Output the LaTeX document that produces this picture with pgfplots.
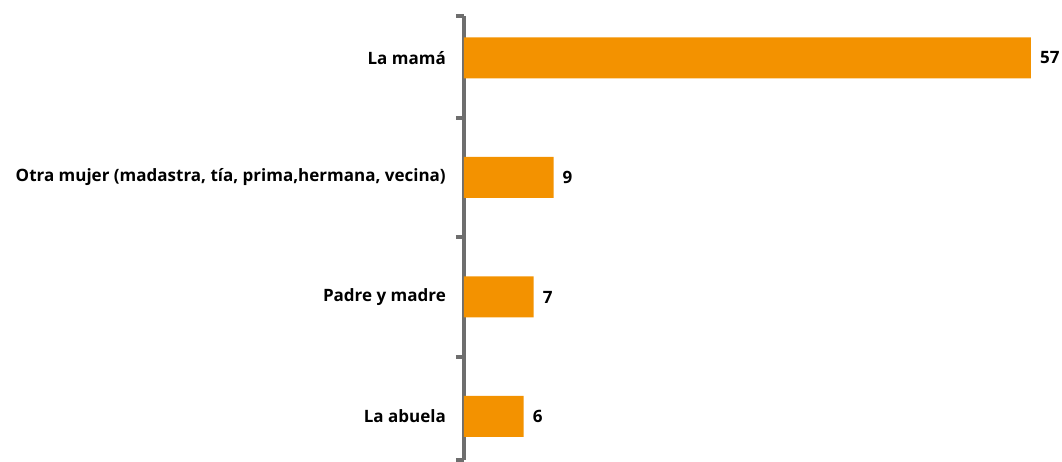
\documentclass[border=0pt]{standalone}
\usepackage{pgfplots}
\pgfplotsset{compat=1.18}
\usepackage{fontspec}
\setmainfont{Open Sans}
\definecolor{barorange}{HTML}{F39200}
\definecolor{axisgray}{HTML}{6E6E6E}
\begin{document}
\begin{tikzpicture}
\begin{axis}[
    xbar,
    scale only axis,
    width=567bp, height=444bp,
    xmin=0, xmax=57,
    ymin=-0.364, ymax=3.351,
    bar width=41bp,
    axis x line=none,
    axis y line*=left,
    y axis line style={draw=axisgray, line width=4.5bp},
    ytick={0,1,2,3},
    yticklabels={La abuela, Padre y madre, {Otra mujer (madastra, tía, prima,hermana, vecina)}, La mamá},
    major tick length=0pt,
    minor ytick={-0.364,0.5,1.5,2.5,3.351},
    minor tick length=8bp,
    every minor tick/.style={draw=axisgray, line width=4bp},
    yticklabel style={font=\fontsize{17bp}{20bp}\selectfont\bfseries, inner sep=0pt, xshift=-18bp},
    tick align=outside,
    nodes near coords,
    /pgf/number format/assume math mode=true,
    every node near coord/.style={font=\fontsize{17bp}{20bp}\selectfont\bfseries, black, anchor=west, inner sep=0pt, xshift=9bp},
    clip=false,
]
\addplot[fill=barorange, draw=none] coordinates {(6,0) (7,1) (9,2) (57,3)};
\coordinate (O) at (rel axis cs:0,0);
\end{axis}
\pgfresetboundingbox
\path ([xshift=-464bp,yshift=-2bp]O) rectangle ([xshift=598bp,yshift=460bp]O);
\end{tikzpicture}
\end{document}
